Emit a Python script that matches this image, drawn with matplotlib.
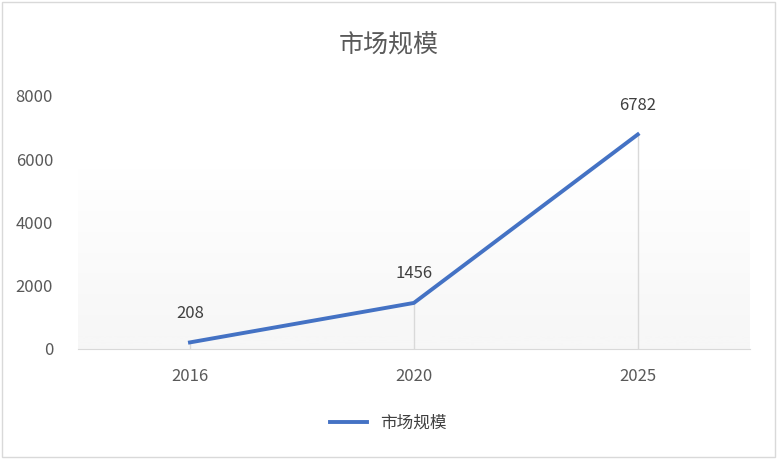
import numpy as np
import matplotlib.pyplot as plt
from matplotlib.patches import Rectangle

plt.rcParams['font.family'] = ['Noto Sans CJK SC', 'DejaVu Sans']

years = ['2016', '2020', '2025']
values = [208, 1456, 6782]
series_name = '市场规模'

fig = plt.figure(figsize=(7.77, 4.59), dpi=100)
fig.patches.append(Rectangle((0.003, 0.005), 0.994, 0.99, transform=fig.transFigure,
                             fill=False, edgecolor='#d9d9d9', linewidth=1))
ax = fig.add_axes([0.1004, 0.2397, 0.8645, 0.5513])
x = np.arange(len(years))

# faint gradient: white near the top fading to light gray at the bottom
grad = np.linspace(0, 1, 256).reshape(-1, 1)
ax.imshow(grad, extent=(-0.5, 2.5, 0, 6000), aspect='auto', cmap='Greys',
          vmin=0, vmax=14, origin='upper', zorder=0)

ax.vlines(x, 0, values, colors='#d9d9d9', linewidth=1, zorder=1)
ax.plot(x, values, color='#4472c4', linewidth=2.8, label=series_name, zorder=3)
for xi, v in zip(x, values):
    ax.text(xi, v + 650, str(v), ha='center', va='bottom', fontsize=12, color='#404040')

ax.set_xlim(-0.5, 2.5)
ax.set_ylim(0, 8000)
ax.set_yticks(range(0, 8001, 2000))
ax.set_xticks(x)
ax.set_xticklabels(years)
ax.tick_params(length=0, labelsize=12, colors='#595959')
ax.tick_params(axis='x', pad=14)
ax.tick_params(axis='y', pad=18)
for s in ['top', 'right', 'left']:
    ax.spines[s].set_visible(False)
ax.spines['bottom'].set_color('#d9d9d9')

fig.text(0.5, 0.9, series_name, ha='center', va='center', fontsize=18, color='#595959')
fig.legend(loc='center', bbox_to_anchor=(0.5, 0.077), frameon=False, fontsize=12,
           handlelength=2.2, labelcolor='#404040')

fig.savefig('out.png', dpi=100)
